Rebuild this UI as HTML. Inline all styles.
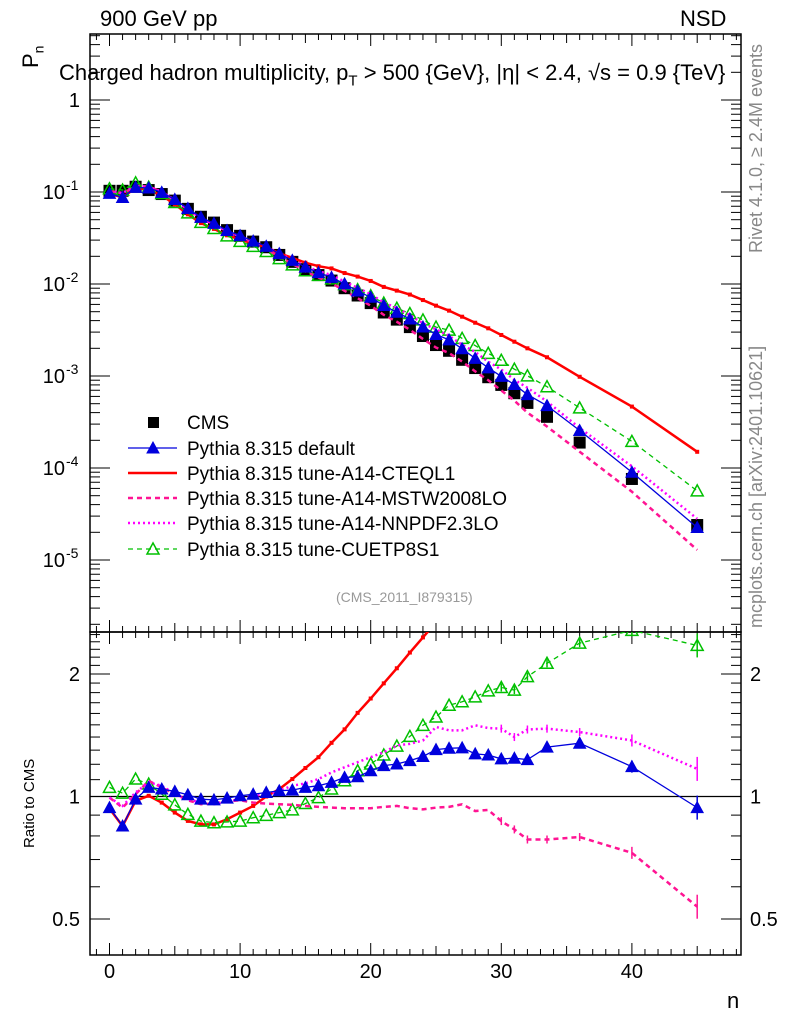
<!DOCTYPE html>
<html><head><meta charset="utf-8"><style>
html,body{margin:0;padding:0;background:#fff}
svg{display:block;font-family:"Liberation Sans",sans-serif}
</style></head><body>
<svg id="chart" width="786" height="1024" viewBox="0 0 786 1024" xmlns="http://www.w3.org/2000/svg">
</svg>
<script>
const nVals=[0,1,2,3,4,5,6,7,8,9,10,11,12,13,14,15,16,17,18,19,20,21,22,23,24,25,26,27,28,29,30,31,32,33.5,36,40,45];
const cmsVals=[0.103,0.103,0.114,0.105,0.095,0.0806,0.0656,0.0538,0.0465,0.0385,0.0334,0.0289,0.0251,0.0207,0.0174,0.0145,0.0125,0.0109,0.0090,0.0075,0.0062,0.0049,0.0041,0.0034,0.00272,0.00217,0.00188,0.00150,0.00122,0.00097,0.00080,0.00065,0.00051,0.00036,0.000189,0.000076,0.000024];
const ratioDefault=[0.939,0.846,0.985,1.053,1.043,1.029,1.010,0.985,0.981,0.991,1.004,1.013,1.023,1.033,1.037,1.053,1.063,1.083,1.114,1.118,1.157,1.191,1.202,1.225,1.254,1.304,1.314,1.317,1.273,1.265,1.237,1.242,1.232,1.322,1.352,1.184,0.939];
const ratioCTEQ=[0.934,0.846,0.976,1.004,0.966,0.913,0.871,0.854,0.854,0.879,0.913,0.948,1.0,1.043,1.104,1.175,1.249,1.355,1.462,1.605,1.741,1.897,2.066,2.258,2.46,2.68,2.73,2.94,3.11,3.40,3.49,3.63,3.92,4.44,5.19,6.12,6.25];
const ratioMSTW=[0.994,0.939,1.013,1.093,1.053,1.013,0.979,0.957,0.961,0.972,0.979,0.966,0.961,0.957,0.954,0.948,0.943,0.939,0.936,0.936,0.936,0.943,0.948,0.936,0.930,0.939,0.943,0.957,0.921,0.927,0.870,0.830,0.784,0.784,0.795,0.727,0.536];
const ratioNNPDF=[0.994,0.948,1.023,1.083,1.063,1.013,0.985,0.966,0.957,0.972,0.985,1.004,1.013,1.033,1.063,1.077,1.104,1.146,1.180,1.214,1.249,1.285,1.335,1.347,1.373,1.482,1.454,1.454,1.496,1.473,1.468,1.400,1.461,1.468,1.440,1.373,1.169];
const ratioCUETP=[1.053,1.019,1.104,1.073,1.013,0.954,0.904,0.870,0.862,0.866,0.870,0.887,0.899,0.913,0.927,0.961,0.994,1.043,1.093,1.157,1.202,1.265,1.330,1.405,1.496,1.568,1.676,1.709,1.757,1.818,1.853,1.826,1.970,2.125,2.382,2.56,2.351];
const xTicks=[0,10,20,30,40];
const yTickExp=[0,-1,-2,-3,-4,-5];
const rTicks=[0.5,1,2];

const NS="http://www.w3.org/2000/svg";
const svg=document.getElementById('chart');
const L=90,R=741,T=34,M=632,B=955;
const X=n=>109.5+13.06*n;
const YT=p=>100-92*Math.log10(p);
const YR=r=>796.5-122.5*Math.log2(r);
function el(tag,attrs,parent){const e=document.createElementNS(NS,tag);for(const k in attrs)e.setAttribute(k,attrs[k]);(parent||svg).appendChild(e);return e;}
function txt(s,attrs,parent){const e=el('text',attrs,parent);e.textContent=s;return e;}

const defs=el('defs',{});
const c1=el('clipPath',{id:'ct'},defs);el('rect',{x:L,y:T,width:R-L,height:M-T},c1);
const c2=el('clipPath',{id:'cb'},defs);el('rect',{x:L,y:M,width:R-L,height:B-M},c2);

const f1=el('rect',{x:L,y:T,width:R-L,height:M-T,fill:'none',stroke:'#000','stroke-width':1.5});

const f2=el('rect',{x:L,y:M,width:R-L,height:B-M,fill:'none',stroke:'#000','stroke-width':1.5});


const tickG=el('g',{stroke:'#000','stroke-width':1});

for(let n=-1;n<=48;n++){const x=X(n);if(x<L||x>R)continue;const len=(n%10===0)?12:(n%5===0?9:6);
 for(const [y0,d] of [[T,1],[M,-1],[M,1],[B,-1]]) el('line',{x1:x,x2:x,y1:y0,y2:y0+d*len},tickG);}
for(let e=1;e>=-6;e--){for(let k=1;k<=9;k++){const p=k*Math.pow(10,e);const y=YT(p);if(y<T||y>M)continue;const len=k===1?20:10;
 el('line',{x1:L,x2:L+len,y1:y,y2:y},tickG);el('line',{x1:R,x2:R-len,y1:y,y2:y},tickG);}}
for(let r=0.4;r<=2.6;r=Math.round((r+0.1)*10)/10){const y=YR(r);if(y<M||y>B)continue;const maj=rTicks.includes(r);const len=maj?20:10;
 el('line',{x1:L,x2:L+len,y1:y,y2:y},tickG);el('line',{x1:R,x2:R-len,y1:y,y2:y},tickG);}

xTicks.forEach(v=>{const t=txt(String(v),{x:X(v),y:978,'font-size':20,'text-anchor':'middle'});});
yTickExp.forEach(e=>{const y=YT(Math.pow(10,e));let t;
 if(e===0){t=txt('1',{x:80,y:y+7,'font-size':20,'text-anchor':'end'});}
 else{t=el('text',{x:65,y:y+7,'font-size':20,'text-anchor':'end'});t.textContent='10';const s=el('tspan',{dy:-9,'font-size':14,x:66,'text-anchor':'start'},t);s.textContent=String(e);}
 });
rTicks.forEach(r=>{const y=YR(r)+7;
 const a=txt(String(r),{x:80,y:y,'font-size':20,'text-anchor':'end'});
 const b=txt(String(r),{x:750,y:y,'font-size':20});});

const ref=el('line',{x1:L,x2:R,y1:YR(1),y2:YR(1),stroke:'#000','stroke-width':1.2});


const series=[
 {name:'cteql1',ratio:ratioCTEQ,color:'#ff0000',w:2.5,dash:'',marker:'dot'},
 {name:'cuetp8s1',ratio:ratioCUETP,color:'#00c000',w:1.3,dash:'5,4',marker:'open-tri'},
 {name:'mstw2008lo',ratio:ratioMSTW,color:'#ff1493',w:2.5,dash:'5,4',marker:'none'},
 {name:'nnpdf23lo',ratio:ratioNNPDF,color:'#ff00ff',w:2.5,dash:'2,3',marker:'none'},
 {name:'default',ratio:ratioDefault,color:'#0000dd',w:1.3,dash:'',marker:'tri'}
];
function tri(g,x,y,c,open){return el('polygon',{points:`${x},${y-6} ${x-6},${y+5} ${x+6},${y+5}`,fill:open?'none':c,stroke:c,'stroke-width':open?1.5:1},g);}
function drawSeries(s,panel){
 const g=el('g',{'clip-path':panel==='top'?'url(#ct)':'url(#cb)'});
 
 
 const pts=nVals.map((n,i)=>[X(n),panel==='top'?YT(cmsVals[i]*s.ratio[i]):YR(s.ratio[i])]);
 el('polyline',{points:pts.map(p=>p.join(',')).join(' '),fill:'none',stroke:s.color,'stroke-width':s.w,'stroke-dasharray':s.dash},g);
 pts.forEach(([x,y],i)=>{
  if(panel!=='top'&&nVals[i]>=30&&s.marker!=='dot'){const h=nVals[i]>=40?(nVals[i]>=45?12:6):4;el('line',{x1:x,x2:x,y1:y-h,y2:y+h,stroke:s.color,'stroke-width':1.5},g);}
  if(s.marker==='dot')el('rect',{x:x-2,y:y-2,width:4,height:4,fill:s.color},g);
  else if(s.marker==='tri')tri(g,x,y,s.color,false);
  else if(s.marker==='open-tri')tri(g,x,y,s.color,true);
 });
}
const cg=el('g',{'clip-path':'url(#ct)'});

nVals.forEach((n,i)=>{el('rect',{x:X(n)-6,y:YT(cmsVals[i])-6,width:12,height:12,fill:'#000'},cg);});
series.forEach(s=>{drawSeries(s,'top');drawSeries(s,'bottom');});

const legend=el('g',{});
const entries=[
 {label:'CMS',y:422,type:'cms'},
 {label:'Pythia 8.315 default',y:448,s:series[4]},
 {label:'Pythia 8.315 tune-A14-CTEQL1',y:473,s:series[0]},
 {label:'Pythia 8.315 tune-A14-MSTW2008LO',y:498,s:series[2]},
 {label:'Pythia 8.315 tune-A14-NNPDF2.3LO',y:523,s:series[3]},
 {label:'Pythia 8.315 tune-CUETP8S1',y:549,s:series[1]}];
entries.forEach(e=>{const g=el('g',{},legend);
 if(e.type==='cms')el('rect',{x:148,y:e.y-5,width:11,height:11,fill:'#000'},g);
 else{el('line',{x1:128,x2:177,y1:e.y,y2:e.y,stroke:e.s.color,'stroke-width':e.s.w,'stroke-dasharray':e.s.dash},g);
  if(e.s.marker==='tri')tri(g,153,e.y,e.s.color,false);if(e.s.marker==='open-tri')tri(g,153,e.y,e.s.color,true);}
 txt(e.label,{x:187,y:e.y+7,'font-size':19},g);});
</script>
<div style="position:absolute;left:0;top:0;width:786px;height:1024px;pointer-events:none;font-family:'Liberation Sans',sans-serif">
 <div style="position:absolute;left:100px;top:6px;font-size:22px">900 GeV pp</div>
 <div style="position:absolute;left:680px;top:6px;font-size:22px">NSD</div>
 <div style="position:absolute;left:18px;top:68px;font-size:22px;transform:rotate(-90deg);transform-origin:left top">P<sub style="font-size:14px">n</sub></div>
 <div style="position:absolute;left:59px;top:60px;font-size:22px;white-space:nowrap">Charged hadron multiplicity, p<sub style="font-size:15px">T</sub> &gt; 500 {GeV}, |η| &lt; 2.4, √s = 0.9 {TeV}</div>
 <div style="position:absolute;left:336px;top:589px;font-size:14px;color:#999">(CMS_2011_I879315)</div>
 <div style="position:absolute;left:21px;top:848px;font-size:15px;transform:rotate(-90deg);transform-origin:left top;white-space:nowrap">Ratio to CMS</div>
 <div style="position:absolute;left:727px;top:988px;font-size:22px">n</div>
 <div style="position:absolute;left:746px;top:253px;font-size:18px;color:#888;transform:rotate(-90deg);transform-origin:left top;white-space:nowrap">Rivet 4.1.0, ≥ 2.4M events</div>
 <div style="position:absolute;left:746px;top:628px;font-size:18px;color:#888;transform:rotate(-90deg);transform-origin:left top;white-space:nowrap">mcplots.cern.ch [arXiv:2401.10621]</div>
</div>
</body></html>
